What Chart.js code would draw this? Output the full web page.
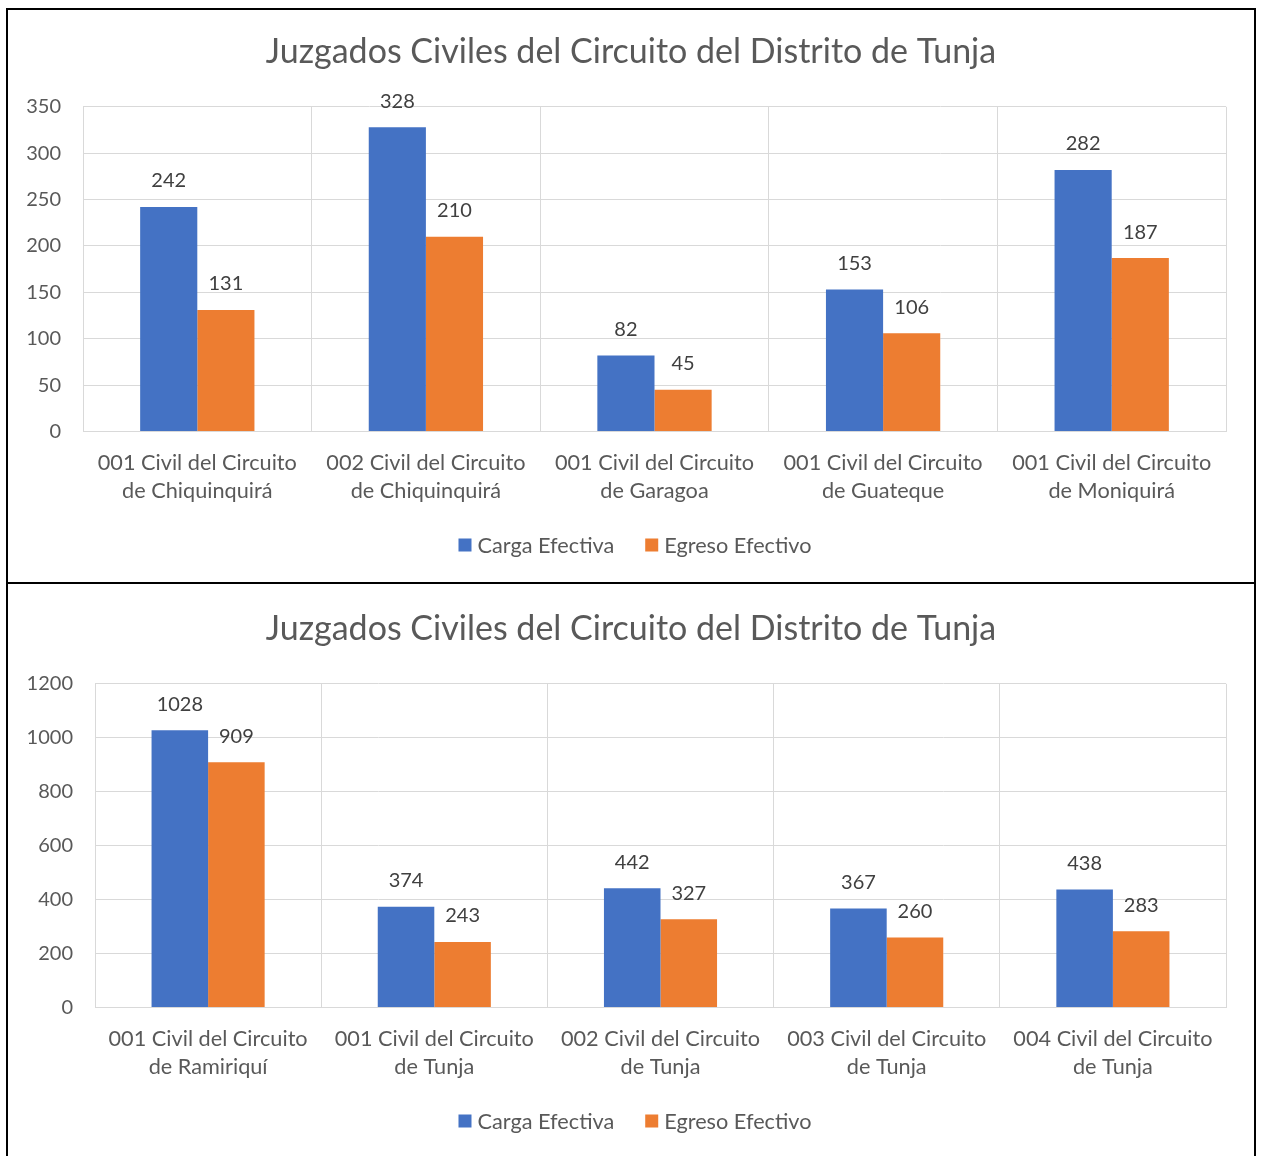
<!DOCTYPE html>
<html>
<head>
<meta charset="utf-8">
<script src="https://cdn.jsdelivr.net/npm/chart.js@4/dist/chart.umd.min.js"></script>
<style>
html,body{margin:0;padding:0;background:#fff;overflow:hidden;}
#frame{position:absolute;left:6px;top:8px;width:1246px;height:1152px;border:2px solid #000;border-bottom:none;}
#sep{position:absolute;left:6px;top:582px;width:1250px;height:2px;background:#000;}
.box{position:absolute;left:8px;width:1246px;}
#b1{top:10px;height:572px;}
#b2{top:587px;height:571px;}
</style>
</head>
<body>
<div id="frame"></div>
<div id="sep"></div>
<div class="box" id="b1"><canvas id="c1"></canvas></div>
<div class="box" id="b2"><canvas id="c2"></canvas></div>
<script>
const titleText = "Juzgados Civiles del Circuito del Distrito de Tunja";
const seriesNames = ["Carga Efectiva", "Egreso Efectivo"];

const categories1 = [
  ["001 Civil del Circuito", "de Chiquinquirá"],
  ["002 Civil del Circuito", "de Chiquinquirá"],
  ["001 Civil del Circuito", "de Garagoa"],
  ["001 Civil del Circuito", "de Guateque"],
  ["001 Civil del Circuito", "de Moniquirá"]
];
const carga1 = [242, 328, 82, 153, 282];
const egreso1 = [131, 210, 45, 106, 187];

const categories2 = [
  ["001 Civil del Circuito", "de Ramiriquí"],
  ["001 Civil del Circuito", "de Tunja"],
  ["002 Civil del Circuito", "de Tunja"],
  ["003 Civil del Circuito", "de Tunja"],
  ["004 Civil del Circuito", "de Tunja"]
];
const carga2 = [1028, 374, 442, 367, 438];
const egreso2 = [909, 243, 327, 260, 283];

const FONT = "Lato";
const AXIS_COLOR = "#595959";
const GRID = "#d9d9d9";

const valueLabels = {
  id: "valueLabels",
  afterDatasetsDraw(chart) {
    const ctx = chart.ctx;
    ctx.save();
    ctx.font = "20px " + FONT;
    ctx.fillStyle = "#404040";
    ctx.textAlign = "center";
    ctx.textBaseline = "middle";
    chart.data.datasets.forEach((ds, i) => {
      const meta = chart.getDatasetMeta(i);
      meta.data.forEach((el, j) => {
        ctx.fillText(String(ds.data[j]), el.x, el.y - 26);
      });
    });
    ctx.restore();
  }
};

// let the y tick labels extend into the left layout padding (no clipping)
const unclipY = {
  id: "unclipY",
  afterLayout(chart) { chart.scales.y.left = 0; }
};

// legend drawn from the datasets (label + colour), Office-style spacing
const officeLegend = {
  id: "officeLegend",
  afterDraw(chart) {
    const ctx = chart.ctx;
    const box = 13, gap = 6, spacing = 31;
    ctx.save();
    ctx.font = "21.7px " + FONT;
    ctx.textBaseline = "middle";
    ctx.textAlign = "left";
    const items = chart.data.datasets.map(ds => ({
      text: ds.label, color: ds.backgroundColor, w: box + gap + ctx.measureText(ds.label).width
    }));
    const total = items.reduce((s, it) => s + it.w, 0) + spacing * (items.length - 1);
    let x = chart.width / 2 + 4 - total / 2;
    const y = chart.height - 37;
    items.forEach(it => {
      ctx.fillStyle = it.color;
      ctx.fillRect(x, y - box / 2, box, box);
      ctx.fillStyle = AXIS_COLOR;
      ctx.fillText(it.text, x + box + gap, y + 1);
      x += it.w + spacing;
    });
    ctx.restore();
  }
};

function makeChart(id, cats, a, b, maxV, step, axisW) {
  return new Chart(document.getElementById(id), {
    type: "bar",
    data: {
      labels: cats,
      datasets: [
        { label: seriesNames[0], data: a, backgroundColor: "#4472C4", categoryPercentage: 0.5, barPercentage: 1.0 },
        { label: seriesNames[1], data: b, backgroundColor: "#ED7D31", categoryPercentage: 0.5, barPercentage: 1.0 }
      ]
    },
    options: {
      responsive: true,
      maintainAspectRatio: false,
      animation: false,
      layout: { padding: { left: 28, right: 28, top: 0, bottom: 60 } },
      plugins: {
        title: {
          display: true, text: titleText, color: AXIS_COLOR,
          font: { family: FONT, size: 34, weight: "normal" },
          padding: { top: 22, bottom: 34 }
        },
        legend: { display: false },
        tooltip: { enabled: false }
      },
      scales: {
        x: {
          grid: { color: GRID, lineWidth: 1, drawTicks: false, offset: true },
          border: { color: GRID },
          ticks: {
            color: AXIS_COLOR, maxRotation: 0, autoSkip: false, padding: 17,
            font: { family: FONT, size: 21.7, lineHeight: 1.3 }
          }
        },
        y: {
          min: 0, max: maxV,
          grid: { color: GRID, lineWidth: 1, drawTicks: false },
          border: { color: GRID },
          ticks: {
            stepSize: step, color: AXIS_COLOR, padding: 22,
            font: { family: FONT, size: 20 },
            callback: (v) => String(v)
          },
          afterFit(scale) { scale.width = axisW; }
        }
      }
    },
    plugins: [valueLabels, unclipY, officeLegend]
  });
}

makeChart("c1", categories1, carga1, egreso1, 350, 50, 47);
makeChart("c2", categories2, carga2, egreso2, 1200, 200, 59);
</script>
</body>
</html>
